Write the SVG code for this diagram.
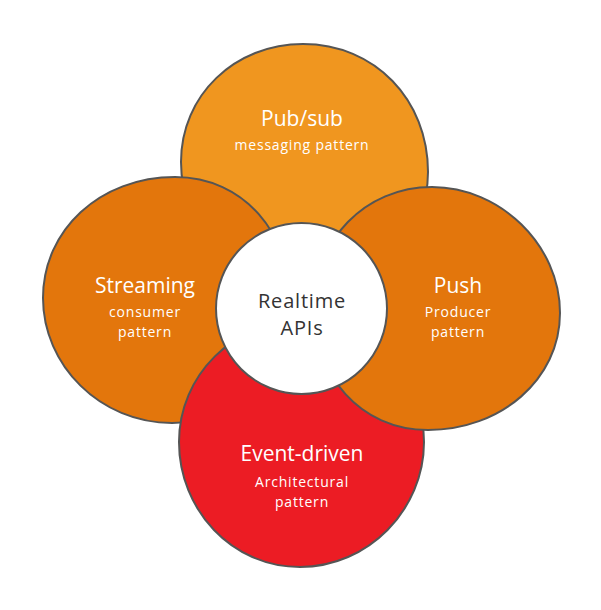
<svg xmlns="http://www.w3.org/2000/svg" width="601" height="610" viewBox="0 0 601 610">
<style>
.blob{stroke:#555;stroke-width:2;stroke-linejoin:round}
.t{font-family:"Open Sans","Noto Sans",sans-serif;text-anchor:middle;fill:#fff}
.h{font-size:21px}
.s{font-size:14px;letter-spacing:0.8px}
.c{fill:#333;font-size:20px;letter-spacing:0.8px}
</style>
<rect width="601" height="610" fill="#fff"/>
<g id="pubsub">
<path class="blob" fill="#F0961F" d="M181,162 C181,95 235,44 303,44 C375,44 428,100 428,172 C428,240 372,288 304,288 C236,288 181,230 181,162 Z"/>
<text class="t h" x="302" y="126">Pub/sub</text>
<text class="t s" x="302" y="150">messaging pattern</text>
</g>
<g id="streaming">
<path class="blob" fill="#E3760C" d="M43,298 C43,230 100,177 175,177 C245,177 290,235 290,300 C290,370 240,423 172,423 C100,423 43,365 43,298 Z"/>
<text class="t h" x="145" y="293">Streaming</text>
<text class="t s" x="145" y="317">consumer</text>
<text class="t s" x="145" y="337">pattern</text>
</g>
<g id="eventdriven">
<path class="blob" fill="#EC1C24" d="M179,442 C179,375 234,321 301,321 C370,321 424,375 424,442 C424,510 368,567 300,567 C232,567 179,510 179,442 Z"/>
<text class="t h" x="302" y="461">Event-driven</text>
<text class="t s" x="302" y="487">Architectural</text>
<text class="t s" x="302" y="507">pattern</text>
</g>
<g id="push">
<path class="blob" fill="#E3760C" d="M314,308 C314,240 365,187 432,187 C500,187 560,245 560,313 C560,380 500,430 428,430 C360,430 314,375 314,308 Z"/>
<text class="t h" x="458" y="293">Push</text>
<text class="t s" x="458" y="317">Producer</text>
<text class="t s" x="458" y="337">pattern</text>
</g>
<g id="realtime">
<circle class="blob" fill="#fff" cx="301.5" cy="308.5" r="85.5"/>
<text class="t c" x="302" y="308">Realtime</text>
<text class="t c" x="302" y="335">APIs</text>
</g>
<g id="connectors"></g>
</svg>
